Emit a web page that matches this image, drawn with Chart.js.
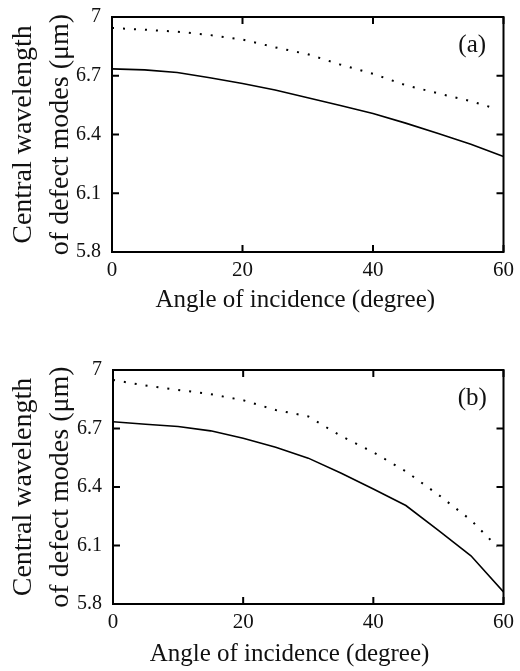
<!DOCTYPE html>
<html lang="en">
<head>
<meta charset="UTF-8">
<title>Central wavelength of defect modes</title>
<script src="https://cdn.jsdelivr.net/npm/chart.js@4"></script>
<style>
  body { margin: 0; background: #fff; }
  .panel { position: absolute; left: 0; width: 520px; }
</style>
</head>
<body>

<div class="panel" style="top:0;height:335px"><canvas id="chartA"></canvas></div>
<div class="panel" style="top:335px;height:336px"><canvas id="chartB"></canvas></div>

<script>
    // angle of incidence (degree)
    const angles = [0, 5, 10, 15, 20, 25, 30, 35, 40, 45, 50, 55, 60];
    const anglesDotted = [0, 5, 10, 15, 20, 25, 30, 35, 40, 45, 50, 55, 59];

    // panel (a), central wavelength (um)
    const solidA  = [6.735, 6.730, 6.717, 6.690, 6.660, 6.627, 6.588, 6.548, 6.507, 6.458, 6.405, 6.350, 6.288];
    const dottedA = [6.944, 6.935, 6.925, 6.908, 6.885, 6.845, 6.810, 6.757, 6.710, 6.652, 6.610, 6.570, 6.530];

    // panel (b)
    const solidB  = [6.735, 6.722, 6.710, 6.688, 6.650, 6.604, 6.548, 6.472, 6.390, 6.305, 6.178, 6.047, 5.862];
    const dottedB = [6.949, 6.920, 6.898, 6.876, 6.845, 6.795, 6.762, 6.662, 6.578, 6.480, 6.360, 6.230, 6.095];

    const xTicks = [0, 20, 40, 60];
    const yTicks = [5.8, 6.1, 6.4, 6.7, 7];
    const yTitle = ['Central wavelength', 'of defect modes (\u03bcm)'];
    const xTitle = 'Angle of incidence (degree)';

    Chart.defaults.font.family = '"Liberation Serif", "DejaVu Serif", serif';
    Chart.defaults.color = '#111';

    // box around the plot, inward ticks on all four sides, panel tag
    const frameTicks = {
        id: 'frameTicks',
        afterDraw(chart, args, opts) {
            const {ctx, chartArea: a, scales: {x, y}} = chart;
            ctx.save();
            ctx.strokeStyle = '#000';
            ctx.lineWidth = 2;
            ctx.strokeRect(a.left, a.top, a.width, a.height);
            ctx.beginPath();
            x.ticks.forEach(t => {
                const px = x.getPixelForValue(t.value);
                ctx.moveTo(px, a.bottom); ctx.lineTo(px, a.bottom - 7);
                ctx.moveTo(px, a.top);    ctx.lineTo(px, a.top + 7);
            });
            y.ticks.forEach(t => {
                const py = y.getPixelForValue(t.value);
                ctx.moveTo(a.left, py);  ctx.lineTo(a.left + 7, py);
                ctx.moveTo(a.right, py); ctx.lineTo(a.right - 7, py);
            });
            ctx.stroke();
            ctx.fillStyle = '#111';
            ctx.font = '25px "Liberation Serif"';
            ctx.textAlign = 'center';
            ctx.textBaseline = 'middle';
            ctx.fillText(opts.label, x.getPixelForValue(55.2), y.getPixelForValue(6.855));
            ctx.restore();
        }
    };

    function makeChart(id, solid, dotted, cfg) {
        return new Chart(document.getElementById(id), {
            type: 'line',
            data: {
                datasets: [{
                    data: angles.map((a, i) => ({x: a, y: solid[i]})),
                    borderColor: '#000',
                    borderWidth: 1.6,
                    pointRadius: 0,
                    fill: false
                }, {
                    data: anglesDotted.map((a, i) => ({x: a, y: dotted[i]})),
                    borderColor: '#000',
                    borderWidth: 2,
                    borderDash: [2, 9],
                    pointRadius: 0,
                    fill: false
                }]
            },
            options: {
                responsive: true,
                maintainAspectRatio: false,
                animation: false,
                layout: { padding: { top: cfg.top, right: cfg.right, left: 0, bottom: 0 } },
                plugins: {
                    legend: { display: false },
                    tooltip: { enabled: false },
                    frameTicks: { label: cfg.label }
                },
                scales: {
                    x: {
                        type: 'linear',
                        min: 0,
                        max: 60,
                        afterBuildTicks: s => { s.ticks = xTicks.map(v => ({value: v})); },
                        afterFit: s => { s.height = cfg.xHeight; },
                        grid: { display: false, drawTicks: false, tickLength: 0 },
                        border: { display: false },
                        ticks: { font: { size: 21 }, padding: 6, maxRotation: 0, callback: v => String(v) },
                        title: {
                            display: true,
                            // trailing spaces nudge the centred title left, as in the original
                            text: xTitle + '\u00a0'.repeat(cfg.titleShift),
                            font: { size: 25 },
                            padding: { top: 0, bottom: cfg.titlePad }
                        }
                    },
                    y: {
                        min: 5.8,
                        max: 7,
                        afterBuildTicks: s => { s.ticks = yTicks.map(v => ({value: v})); },
                        afterFit: s => { s.width = cfg.left; },
                        grid: { display: false },
                        border: { display: false },
                        ticks: { font: { size: 20 }, padding: 3, callback: v => v === 7 ? '7' : v.toFixed(1) },
                        title: {
                            display: true,
                            text: yTitle,
                            font: { size: 28, lineHeight: 1.33 },
                            padding: { top: 5, bottom: 0 }
                        }
                    }
                }
            },
            plugins: [frameTicks]
        });
    }

    makeChart('chartA', solidA, dottedA, { label: '(a)', top: 17, right: 14, left: 112, xHeight: 83, titlePad: 20, titleShift: 4 });
    makeChart('chartB', solidB, dottedB, { label: '(b)', top: 35, right: 13, left: 113, xHeight: 67, titlePad: 2, titleShift: 6 });
</script>

</body>
</html>
